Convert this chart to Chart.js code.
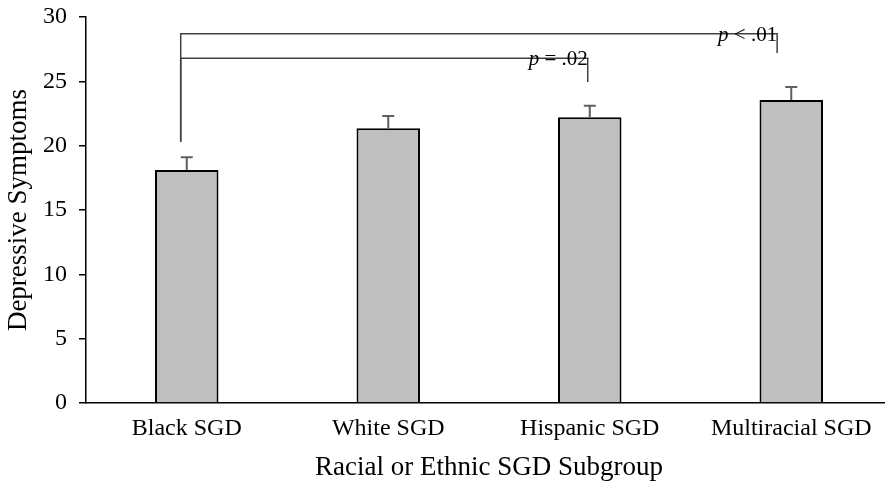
<!DOCTYPE html>
<html>
<head>
<meta charset="utf-8">
<script src="https://cdn.jsdelivr.net/npm/chart.js@4.4.0/dist/chart.umd.min.js"></script>
<style>
  html, body { margin: 0; padding: 0; background: #fff; overflow: hidden; }
  #wrap { width: 900px; height: 485px; }
</style>
</head>
<body>
<div id="wrap"><canvas id="chart" width="900" height="485"></canvas></div>
<script>
const categories = ["Black SGD", "White SGD", "Hispanic SGD", "Multiracial SGD"];
const means = [18.1, 21.35, 22.2, 23.55];
const errors = [1.0, 0.95, 0.9, 1.0];

// significance brackets (category positions / value levels)
const bracketText = ["p = .02", "p < .01"];
const bracketStart = [-0.03, -0.03];
const bracketEnd = [1.99, 2.93];
const bracketLevel = [26.8, 28.7];
const bracketLeftFoot = [20.3, 20.3];
const bracketRightFoot = [24.95, 27.2];

const SERIF = "'Liberation Serif', 'Times New Roman', serif";
Chart.defaults.font.family = SERIF;
Chart.defaults.color = "#000";

const errorBars = {
    id: "errorBars",
    afterDatasetsDraw(chart) {
        const { ctx, scales: { x, y } } = chart;
        ctx.save();
        ctx.strokeStyle = "#5f5f5f";
        ctx.lineWidth = 2;
        means.forEach((m, i) => {
            const cx = x.getPixelForValue(i);
            const y0 = y.getPixelForValue(m);
            const y1 = y.getPixelForValue(m + errors[i]);
            ctx.beginPath();
            ctx.moveTo(cx, y0);
            ctx.lineTo(cx, y1);
            ctx.moveTo(cx - 6, y1);
            ctx.lineTo(cx + 6, y1);
            ctx.stroke();
        });
        ctx.restore();
    }
};

const brackets = {
    id: "brackets",
    afterDatasetsDraw(chart) {
        const { ctx, scales: { x, y } } = chart;
        ctx.save();
        ctx.strokeStyle = "#404040";
        ctx.lineWidth = 1.5;
        bracketText.forEach((txt, i) => {
            const xa = x.getPixelForValue(bracketStart[i]);
            const xb = x.getPixelForValue(bracketEnd[i]);
            const yl = y.getPixelForValue(bracketLevel[i]);
            ctx.beginPath();
            ctx.moveTo(xa, y.getPixelForValue(bracketLeftFoot[i]));
            ctx.lineTo(xa, yl);
            ctx.lineTo(xb, yl);
            ctx.lineTo(xb, y.getPixelForValue(bracketRightFoot[i]));
            ctx.stroke();

            // label: italic p, rest upright, right-aligned to the bracket end
            const rest = txt.slice(1);
            ctx.textBaseline = "alphabetic";
            ctx.fillStyle = "#000";
            ctx.font = "21px " + SERIF;
            const wRest = ctx.measureText(rest).width;
            ctx.font = "italic 21px " + SERIF;
            const wP = ctx.measureText("p").width;
            ctx.fillText("p", xb - wRest - wP, yl + 7);
            ctx.font = "21px " + SERIF;
            ctx.fillText(rest, xb - wRest, yl + 7);
        });
        ctx.restore();
    }
};

new Chart(document.getElementById("chart"), {
    type: "bar",
    data: {
        labels: categories,
        datasets: [{
            data: means,
            backgroundColor: "#bfbfbf",
            borderColor: "#000",
            borderWidth: 2,
            categoryPercentage: 1,
            barPercentage: 0.315,
        }],
    },
    options: {
        responsive: false,
        animation: false,
        layout: { padding: { top: 17, right: 8, bottom: 0, left: 0 } },
        plugins: { legend: { display: false }, tooltip: { enabled: false } },
        scales: {
            x: {
                grid: { display: false, drawTicks: false },
                border: { display: true, color: "#000", width: 1.5 },
                ticks: { font: { size: 24 }, color: "#000", padding: 11, maxRotation: 0 },
                title: {
                    display: true, text: "Racial or Ethnic SGD Subgroup",
                    font: { size: 27 }, color: "#000", padding: { top: 0, bottom: 1 },
                },
                afterFit(scale) {
                    scale.height = 82;
                    scale.paddingLeft = 0;
                    scale.paddingRight = 0;
                },
            },
            y: {
                min: 0, max: 30,
                ticks: { stepSize: 5, font: { size: 24 }, color: "#000", padding: 12 },
                grid: { drawOnChartArea: false, drawTicks: true, tickLength: 7, color: "#000", lineWidth: 1.5 },
                border: { color: "#000", width: 1.5 },
                title: {
                    display: true, text: "Depressive Symptoms",
                    font: { size: 27 }, color: "#000", padding: { top: 3, bottom: 0 },
                },
                afterFit(scale) {
                    scale.width = 86;
                    scale.paddingTop = 0;
                    scale.paddingBottom = 0;
                },
            },
        },
    },
    plugins: [errorBars, brackets],
});
</script>
</body>
</html>
